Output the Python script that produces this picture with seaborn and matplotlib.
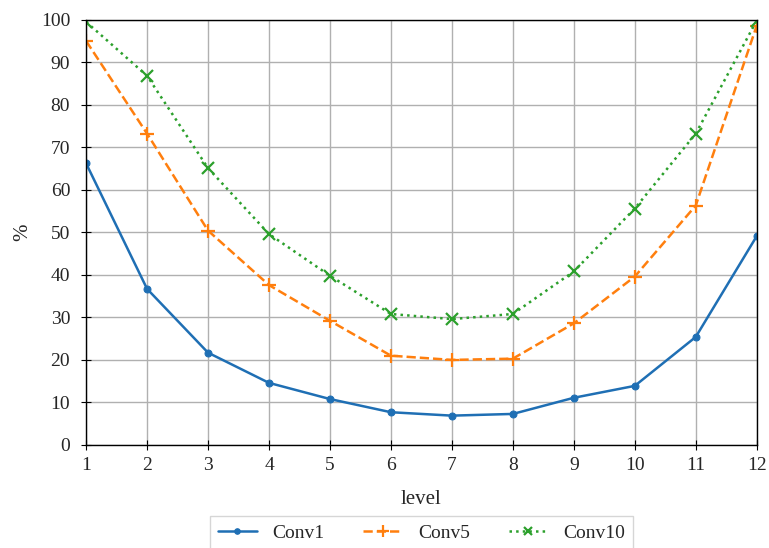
import matplotlib
matplotlib.use("Agg")
import matplotlib.pyplot as plt
import seaborn as sns
import pandas as pd

levels = [1, 2, 3, 4, 5, 6, 7, 8, 9, 10, 11, 12]
conv1 = [66.2, 36.7, 21.7, 14.6, 10.8, 7.7, 6.9, 7.3, 11.1, 13.9, 25.4, 49.1]
conv5 = [95.0, 73.2, 50.4, 37.6, 29.2, 21.0, 20.0, 20.3, 28.6, 39.6, 56.3, 98.6]
conv10 = [99.5, 86.8, 65.1, 49.6, 39.8, 30.8, 29.6, 30.8, 40.8, 55.6, 73.2, 99.8]

series = {"Conv1": conv1, "Conv5": conv5, "Conv10": conv10}
styles = {
    "Conv1": dict(color="#1f6fb4", linestyle="-", marker="o", markersize=5,
                  markeredgecolor="#1f6fb4"),
    "Conv5": dict(color="#ff7f0e", linestyle="--", marker="+", markersize=10,
                  markeredgewidth=1.6, markeredgecolor="#ff7f0e"),
    "Conv10": dict(color="#2ca02c", linestyle=":", marker="x", markersize=8,
                   markeredgewidth=1.6, markeredgecolor="#2ca02c"),
}

df = pd.DataFrame([
    {"level": lv, "value": v, "series": name}
    for name, vals in series.items()
    for lv, v in zip(levels, vals)
])

sns.set_style("ticks")
plt.rcParams["font.family"] = ["Liberation Serif", "DejaVu Serif"]
plt.rcParams["font.size"] = 14

fig = plt.figure(figsize=(7.69, 5.48), dpi=100)
ax = fig.add_axes([0.112, 0.188, 0.872, 0.776])

for name in series:
    sub = df[df["series"] == name]
    sns.lineplot(data=sub, x="level", y="value", ax=ax, label=name,
                 linewidth=1.8, **styles[name])

ax.set_xlim(1, 12)
ax.set_ylim(0, 100)
ax.set_xticks(levels)
ax.set_yticks(range(0, 101, 10))
ax.grid(True, color="#b0b0b0", linewidth=1)
ax.set_axisbelow(True)
for s in ax.spines.values():
    s.set_color("black")
    s.set_linewidth(1)
ax.tick_params(labelsize=14, length=7, direction="inout", color="black")
ax.tick_params(axis="y", pad=8)
ax.tick_params(axis="x", pad=5)
ax.set_xlabel("level", fontsize=15, labelpad=12)
ax.set_ylabel("%", fontsize=15, labelpad=6)

ax.legend(loc="upper center", bbox_to_anchor=(0.5, -0.168), ncol=3,
          frameon=True, fontsize=14, columnspacing=2.0, handlelength=2.0,
          handletextpad=0.8, markerscale=0.8,
          fancybox=False, edgecolor="#cccccc", borderaxespad=0)

fig.savefig("out.png", dpi=100)
